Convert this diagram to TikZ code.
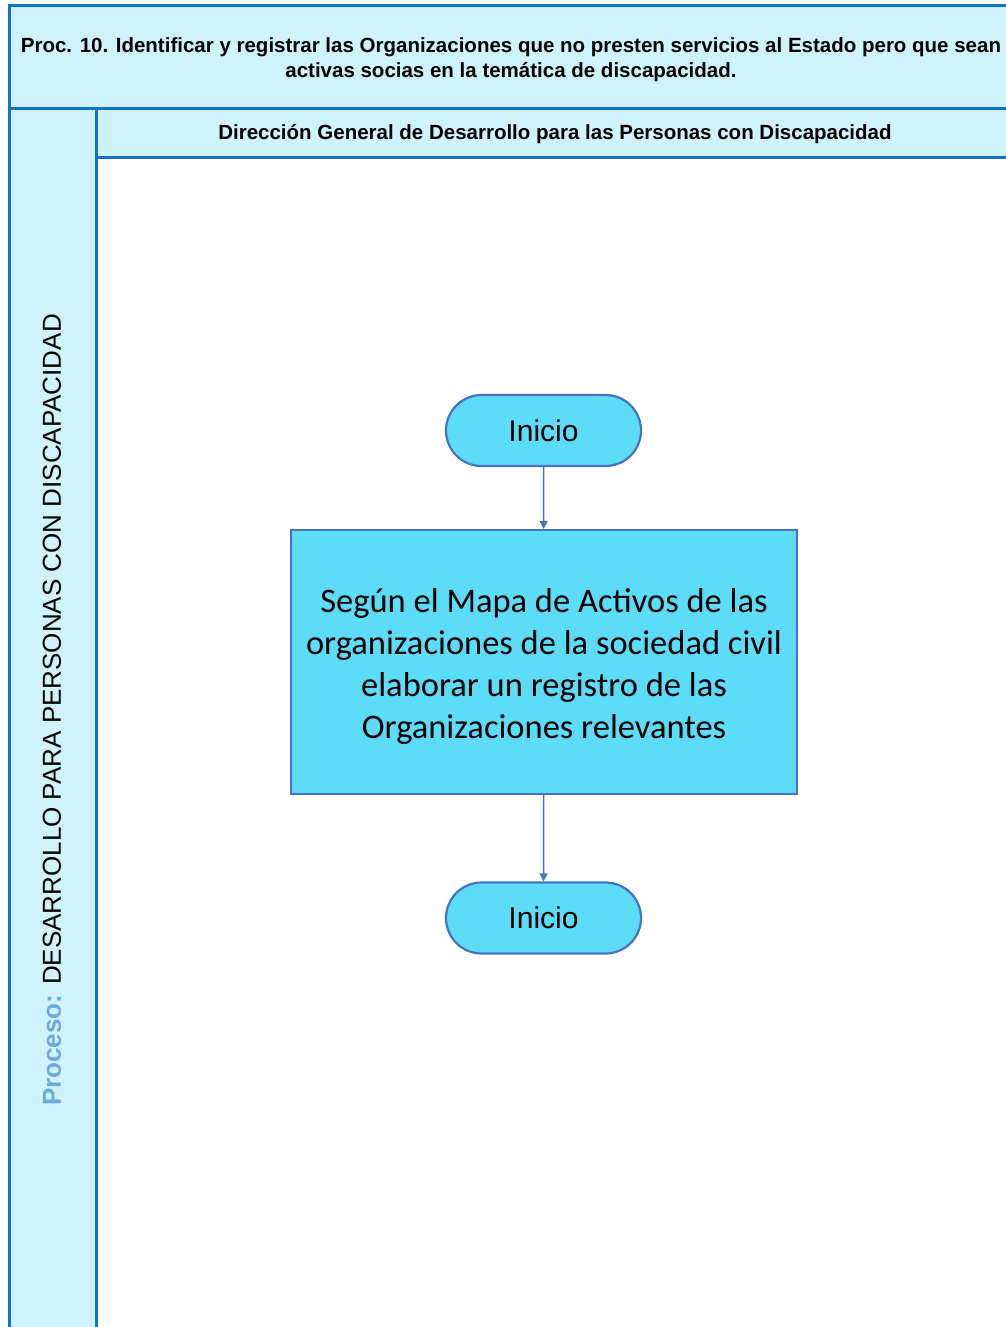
\documentclass[tikz,border=0pt]{standalone}
\usepackage{fontspec}
\setmainfont{Liberation Sans}
\newfontfamily\calib{Carlito}
\usetikzlibrary{arrows.meta,shapes.misc}
\definecolor{lanefill}{HTML}{CFF3FC}
\definecolor{laneline}{HTML}{1272C4}
\definecolor{nodefill}{HTML}{5DDCF8}
\definecolor{nodeline}{HTML}{4472C4}
\definecolor{procblue}{HTML}{6FA8DC}
\tikzset{
  x=1pt,y=-1pt,
  laneborder/.style={draw=laneline,line width=3pt},
  headtext/.style={font=\bfseries\fontsize{20.5}{25}\selectfont,align=center},
  terminal/.style={rounded rectangle,draw=nodeline,fill=nodefill,line width=2.2pt,minimum width=195pt,minimum height=71pt,inner sep=0pt,font=\fontsize{30}{34}\selectfont},
  procbox/.style={rectangle,draw=nodeline,fill=nodefill,line width=2.2pt,minimum width=506pt,minimum height=264pt,inner sep=0pt,align=center,font=\calib\fontsize{34.5}{42}\selectfont},
  flow/.style={draw=nodeline,line width=1.5pt,-{Triangle[length=8pt,width=8pt]}}
}
\begin{document}
\begin{tikzpicture}
\useasboundingbox (0,0) rectangle (1005,1327);
% backgrounds
\fill[lanefill] (9,5) rectangle (1010,157);
\fill[lanefill] (9,157) rectangle (96,1330);
% borders
\draw[laneborder] (1010,6) -- (9,6) -- (9,1330);
\draw[laneborder] (9,109) -- (1010,109);
\draw[laneborder] (96,109) -- (96,1330);
\draw[laneborder] (96,157) -- (1010,157);
% header texts
\node[headtext] (title) at (511,60)
  {Proc. 10. Identificar y registrar las Organizaciones que no presten servicios al Estado pero que sean\\activas socias en la temática de discapacidad.};
\node[headtext] (lane) at (555,134)
  {Dirección General de Desarrollo para las Personas con Discapacidad};
\node[rotate=90,font=\fontsize{26}{30}\selectfont] (proc) at (52,710)
  {\textcolor{procblue}{\bfseries Proceso:} DESARROLLO PARA PERSONAS CON DISCAPACIDAD};
% flow nodes
\node[terminal] (start) at (543.5,430.5) {Inicio};
\node[procbox] (task) at (544,662) {\mbox{}\\[-10pt]Según el Mapa de Activos de las\\organizaciones de la sociedad civil\\elaborar un registro de las\\Organizaciones relevantes};
\node[terminal] (end) at (543.5,918) {Inicio};
\draw[flow] (start) -- (task);
\draw[flow] (task) -- (end);
\end{tikzpicture}
\end{document}
